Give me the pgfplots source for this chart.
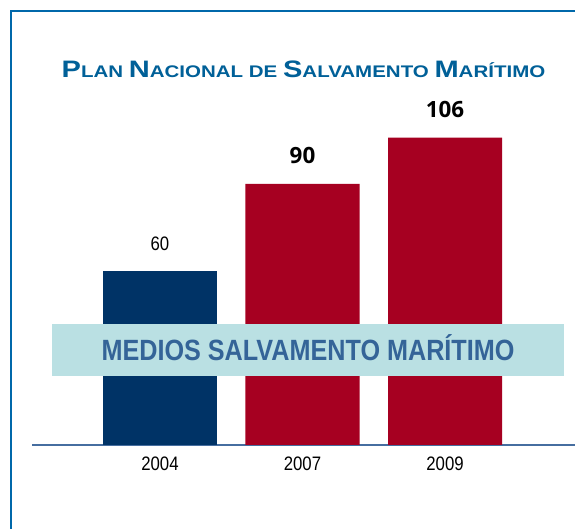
\documentclass[border=0pt]{standalone}
\usepackage{pgfplots}
\pgfplotsset{compat=1.18}
\usepackage{fontspec}
\setmainfont{Liberation Sans}
\newfontfamily\narrowfont[FakeStretch=0.86]{Liberation Sans}
\newfontfamily\widefont[FakeStretch=1.22]{Liberation Sans}
\newfontfamily\osans{Open Sans}
\definecolor{framec}{RGB}{0,104,170}
\definecolor{titlec}{RGB}{0,96,152}
\definecolor{barblue}{RGB}{0,51,102}
\definecolor{barred}{RGB}{166,0,33}
\definecolor{bandc}{RGB}{186,224,227}
\definecolor{bandtext}{RGB}{52,100,152}
\definecolor{basec}{RGB}{70,110,160}
\newcommand\SC[2]{{\fontsize{11.9}{12}\selectfont #1}{\fontsize{8.4}{9}\selectfont #2}}
\begin{document}
\begin{tikzpicture}
\useasboundingbox (0,0) rectangle (287.5pt,264.5pt);
\fill[white] (0,0) rectangle (287.5pt,264.5pt);
\draw[framec, line width=1.25pt] (5.5pt,-2pt) -- (5.5pt,259pt) -- (290pt,259pt);
\node[anchor=base, text=titlec, font=\widefont\bfseries, inner sep=0pt] at (151.75pt,225.5pt)
  {\SC{P}{LAN}\fontsize{8.4}{9}\selectfont\ \SC{N}{ACIONAL} DE \SC{S}{ALVAMENTO} \SC{M}{ARÍTIMO}};
\begin{axis}[
  at={(16pt,42pt)}, anchor=south west,
  scale only axis, width=271.5pt, height=200pt,
  xmin=-0.898, xmax=2.912, ymin=0, ymax=137.93,
  axis x line*=bottom, axis y line=none,
  x axis line style={draw=basec, line width=0.75pt, -},
  xtick={0,1,2}, xticklabels={2004,2007,2009},
  major tick length=0pt,
  xticklabel style={font=\narrowfont\fontsize{9.75}{10}\selectfont, text=black, yshift=-2.5pt},
  /pgf/number format/assume math mode=true,
  clip=false,
]
\addplot[ybar, bar width=0.8, bar shift=0pt, fill=barblue, draw=none,
  nodes near coords,
  nodes near coords style={font=\narrowfont\fontsize{9.75}{10}\selectfont, text=black, anchor=base, yshift=10pt}]
  coordinates {(0,60)};
\addplot[ybar, bar width=0.8, bar shift=0pt, fill=barred, draw=none,
  nodes near coords,
  nodes near coords style={font=\osans\bfseries\fontsize{11.2}{12}\selectfont, text=black, anchor=base, yshift=10pt}]
  coordinates {(1,90) (2,106)};
\end{axis}
\fill[bandc] (26pt,76.25pt) rectangle (282pt,102.25pt);
\node[anchor=base, text=bandtext, inner sep=0pt, font=\narrowfont\bfseries\fontsize{14.65}{15}\selectfont] at (154pt,84pt) {MEDIOS SALVAMENTO MARÍTIMO};
\end{tikzpicture}
\end{document}
